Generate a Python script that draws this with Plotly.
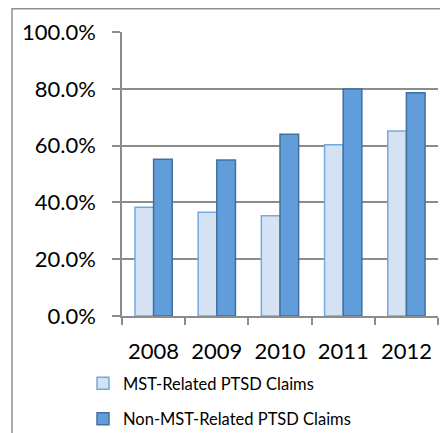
import plotly.graph_objects as go

YEARS = ["2008", "2009", "2010", "2011", "2012"]
MST_RELATED = [0.383, 0.365, 0.353, 0.603, 0.651]
NON_MST_RELATED = [0.552, 0.549, 0.640, 0.799, 0.786]

LIGHT_FILL = "#D4E2F3"
LIGHT_LINE = "#74A9E0"
DARK_FILL = "#609DDA"
DARK_LINE = "#41709F"
GRID = "#8C8C8C"
FONT = "Lato, Calibri, sans-serif"

# page body adds 8px, so the figure is a bit smaller than the window
W, H = 440, 425
L, R, T, B = 114, 10, 24, 117
PW, PH = W - L - R, H - T - B


def px_x(x):
    return (x - L) / PW


def px_y(y):
    return (H - B - y) / PH


fig = go.Figure()
fig.add_trace(go.Bar(
    x=YEARS, y=MST_RELATED, name="MST-Related PTSD Claims", legendgroup="a",
    marker=dict(color=LIGHT_FILL, line=dict(color=LIGHT_LINE, width=1.5)),
))
fig.add_trace(go.Bar(
    x=YEARS, y=NON_MST_RELATED, name="Non-MST-Related PTSD Claims", legendgroup="b",
    marker=dict(color=DARK_FILL, line=dict(color=DARK_LINE, width=1.5)),
))

# outer chart frame
fig.add_shape(type="rect", xref="paper", yref="paper",
              x0=px_x(4), x1=px_x(435), y0=px_y(440), y1=px_y(0.75),
              line=dict(color="#8E8E8E", width=1.5), layer="below")

fig.update_layout(
    width=W, height=H,
    margin=dict(l=L, r=R, t=T, b=B, autoexpand=False),
    paper_bgcolor="white", plot_bgcolor="white",
    font=dict(family=FONT, color="black"),
    barmode="group", bargap=0.41, bargroupgap=0,
    showlegend=True,
    legend=dict(xref="container", yref="container",
                x=75 / W, y=1 - 358 / H, xanchor="left", yanchor="top",
                font=dict(size=16.5, family=FONT), tracegroupgap=11,
                itemwidth=30, bgcolor="rgba(0,0,0,0)"),
)
fig.update_xaxes(
    tickson="boundaries", ticks="outside", ticklen=7, tickcolor=GRID, tickwidth=1.5,
    showline=True, linecolor=GRID, linewidth=1.5, tickangle=0, automargin=False,
    ticklabelstandoff=15,
    tickfont=dict(size=22, family=FONT), showgrid=False,
)
fig.update_yaxes(
    range=[0, 1.0], tickvals=[0, 0.2, 0.4, 0.6, 0.8, 1.0], tickformat=".1%",
    ticks="outside", ticklen=8, tickcolor=GRID, tickwidth=1.5, ticklabelstandoff=12,
    showline=True, linecolor=GRID, linewidth=1.5, automargin=False,
    showgrid=True, gridcolor=GRID, gridwidth=1.5, zeroline=False,
    tickfont=dict(size=22, family=FONT),
)

fig.write_html("out.html")
